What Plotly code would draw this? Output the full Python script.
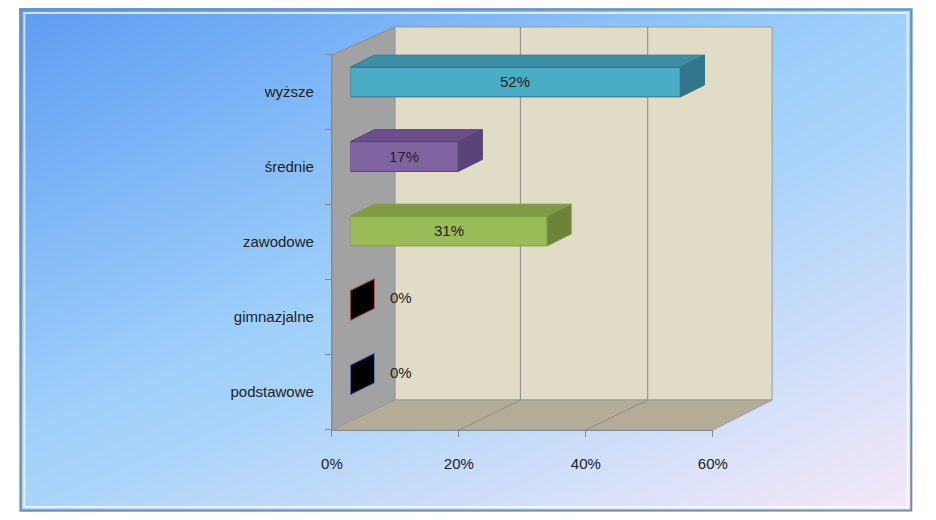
import plotly.graph_objects as go

categories = ["podstawowe", "gimnazjalne", "zawodowe", "średnie", "wyższe"]
values = [0.0, 0.0, 0.31, 0.17, 0.52]
labels = ["0%", "0%", "31%", "17%", "52%"]
x_ticks = [0, 0.2, 0.4, 0.6]
x_tick_text = ["0%", "20%", "40%", "60%"]

front = ["#000000", "#000000", "#9bbb59", "#8064a2", "#4bacc6"]
top = ["#000000", "#000000", "#7f9c44", "#6a4f8c", "#3c8ea6"]
side = ["#000000", "#000000", "#6b8438", "#5a4379", "#31768a"]
edge = ["#4f81bd", "#c0504d", "#7f9c44", "#5a4379", "#31768a"]

# page body has an 8px margin, so the figure is 920x504 placed at (8, 8)
OFF = 8
W, H = 920, 504

def px(x):
    return (x - OFF) / W

def py(y):
    return 1 - (y - OFF) / H

fig = go.Figure()

# background gradient (pixel space subplot, window coordinates)
fig.add_trace(go.Heatmap(x=[OFF, OFF + W], y=[OFF, OFF + H], z=[[0, 1], [1.2, 2]], zsmooth="best",
                         colorscale=[[0, "#5d9cf2"], [0.5, "#9fd0fb"], [0.6, "#aad4fa"], [1, "#f5e9f8"]],
                         showscale=False, hoverinfo="skip"))

def poly(xs, ys, fill, line="rgba(0,0,0,0)"):
    fig.add_trace(go.Scatter(x=xs + [xs[0]], y=ys + [ys[0]], fill="toself", fillcolor=fill,
                             mode="lines", line=dict(color=line, width=1), hoverinfo="skip", showlegend=False))

# walls and floor
poly([330, 395, 395, 330], [55, 27, 400, 430], "#a2a2a2", "#8a8a8a")
poly([395, 783, 783, 395], [27, 27, 400, 400], "#e1dcc6", "#9a9a9a")
poly([330, 395, 783, 722], [430, 400, 400, 430], "#b3ad98", "#9a9a9a")
for gx, fx in [(524, 461), (655, 591)]:
    fig.add_trace(go.Scatter(x=[gx, gx], y=[27, 400], mode="lines", line=dict(color="#8a8a8a", width=1),
                             hoverinfo="skip", showlegend=False))
    fig.add_trace(go.Scatter(x=[fx, gx], y=[430, 400], mode="lines", line=dict(color="#8a8a8a", width=1),
                             hoverinfo="skip", showlegend=False))

# bars (front faces) + 3D top and side faces
dx, dy, hw = 0.038, 0.16, 0.2
fig.add_trace(go.Bar(x=values, y=list(range(5)), orientation="h", width=0.4, xaxis="x2", yaxis="y2",
                     marker=dict(color=front, line=dict(color=edge, width=1)), hoverinfo="skip"))
for i, v in enumerate(values):
    for xs, ys, c in [
        ([0, v, v + dx, dx], [i + hw, i + hw, i + hw + dy, i + hw + dy], top[i]),
        ([v, v, v + dx, v + dx], [i - hw, i + hw, i + hw + dy, i - hw + dy], side[i]),
    ]:
        fig.add_trace(go.Scatter(x=xs + [xs[0]], y=ys + [ys[0]], fill="toself", fillcolor=c, mode="lines",
                                 line=dict(color=edge[i], width=1), xaxis="x2", yaxis="y2",
                                 hoverinfo="skip", showlegend=False))
    if v > 0:
        fig.add_annotation(x=v / 2, y=i, text=labels[i], showarrow=False, xref="x2", yref="y2",
                           font=dict(size=15, color="#222"))
    else:
        fig.add_annotation(x=dx, y=i, text=labels[i], showarrow=False, xref="x2", yref="y2", xanchor="left",
                           xshift=14, yshift=8, font=dict(size=15, color="#222"))

# visible axes
fig.add_trace(go.Scatter(x=[0, 0.6], y=[0, 4], mode="markers", marker=dict(opacity=0), xaxis="x3", yaxis="y3",
                         hoverinfo="skip", showlegend=False))

fig.update_layout(
    width=W, height=H, margin=dict(l=0, r=0, t=0, b=0), showlegend=False,
    font=dict(family="Liberation Sans", size=15, color="#222"),
    xaxis=dict(domain=[0, 1], range=[OFF, OFF + W], visible=False, fixedrange=True),
    yaxis=dict(domain=[0, 1], range=[OFF + H, OFF], visible=False, fixedrange=True),
    xaxis2=dict(domain=[px(349), px(773.5)], range=[0, 0.65], anchor="y2", visible=False),
    yaxis2=dict(domain=[py(417.25), py(44.75)], range=[-0.5, 4.5], anchor="x2", visible=False),
    xaxis3=dict(domain=[px(330), px(722)], range=[0, 0.6], anchor="y3", tickvals=x_ticks, ticktext=x_tick_text,
                showline=True, linecolor="#888", ticks="outside", ticklen=6, tickcolor="#888",
                showgrid=False, zeroline=False, ticklabelstandoff=14),
    yaxis3=dict(domain=[py(429.6), py(54)], range=[-0.5, 4.5], anchor="x3", tickvals=list(range(5)),
                ticktext=categories, showline=True, linecolor="#888", ticks="", showgrid=False, zeroline=False,
                ticklabelstandoff=14,
                minor=dict(tickvals=[-0.5, 0.5, 1.5, 2.5, 3.5, 4.5], ticks="outside", ticklen=6, tickcolor="#888")),
    plot_bgcolor="rgba(0,0,0,0)", paper_bgcolor="#ffffff",
    shapes=[dict(type="rect", xref="paper", yref="paper", x0=0.002, x1=0.998, y0=0.003, y1=0.997,
                 line=dict(color="#6f8fb0", width=2)),
            dict(type="rect", xref="paper", yref="paper", x0=0.006, x1=0.994, y0=0.01, y1=0.99,
                 line=dict(color="rgba(255,255,255,0.7)", width=2))],
)

fig.write_html("out.html")
